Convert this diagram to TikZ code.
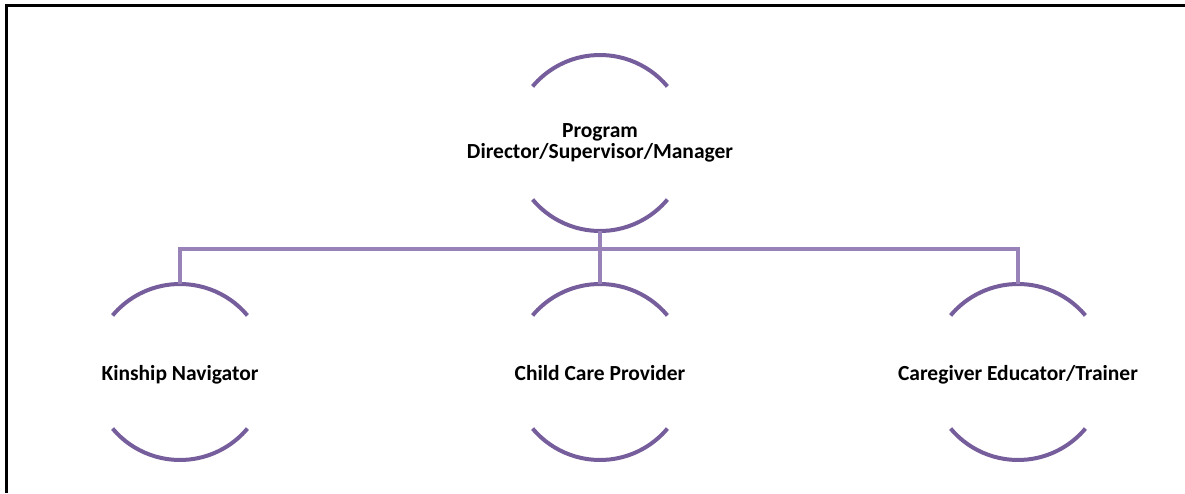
\documentclass[tikz,border=0pt]{standalone}
\usepackage{fontspec}
\setmainfont{Carlito}
\usetikzlibrary{positioning}
\definecolor{ringpurple}{RGB}{118,93,155}
\definecolor{linkpurple}{RGB}{152,130,184}

% half-open circle around a role: top and bottom arcs only
\newcommand{\rolering}[1]{%
  \draw[ring] ([shift={(40:88)}]#1.center) arc[start angle=40, end angle=140, radius=88pt];
  \draw[ring] ([shift={(220:88)}]#1.center) arc[start angle=220, end angle=320, radius=88pt];}

\begin{document}
\begin{tikzpicture}[x=1pt, y=1pt, node distance=229pt, on grid,
    role/.style={align=center, inner sep=0pt, font=\fontsize{21.5}{21}\selectfont\bfseries},
    oneline/.style={role, text height=20pt, text depth=4pt},
    ring/.style={draw=ringpurple, line width=4pt},
    link/.style={draw=linkpurple, line width=4pt}]
  \useasboundingbox (0,0) rectangle (1185,493);
  \draw[line width=2.5pt] (6.5,0) -- (6.5,487.5) -- (1185,487.5);

  \node[role] (prog) at (600,350) {Program\\Director/Supervisor/Manager};
  \node[oneline, below=of prog] (care) {Child Care Provider};
  \node[oneline, left=420pt of care] (nav) {Kinship Navigator};
  \node[oneline, right=418pt of care] (trainer) {Caregiver Educator/Trainer};

  \rolering{prog}
  \rolering{care}
  \rolering{nav}
  \rolering{trainer}

  \draw[link] ([yshift=-88pt]prog.center) -- ++(0,-18.5) coordinate (bus);
  \draw[link] ([yshift=88pt]nav.center) |- (bus) -| ([yshift=88pt]trainer.center);
  \draw[link] (bus) -- ([yshift=88pt]care.center);
\end{tikzpicture}
\end{document}
